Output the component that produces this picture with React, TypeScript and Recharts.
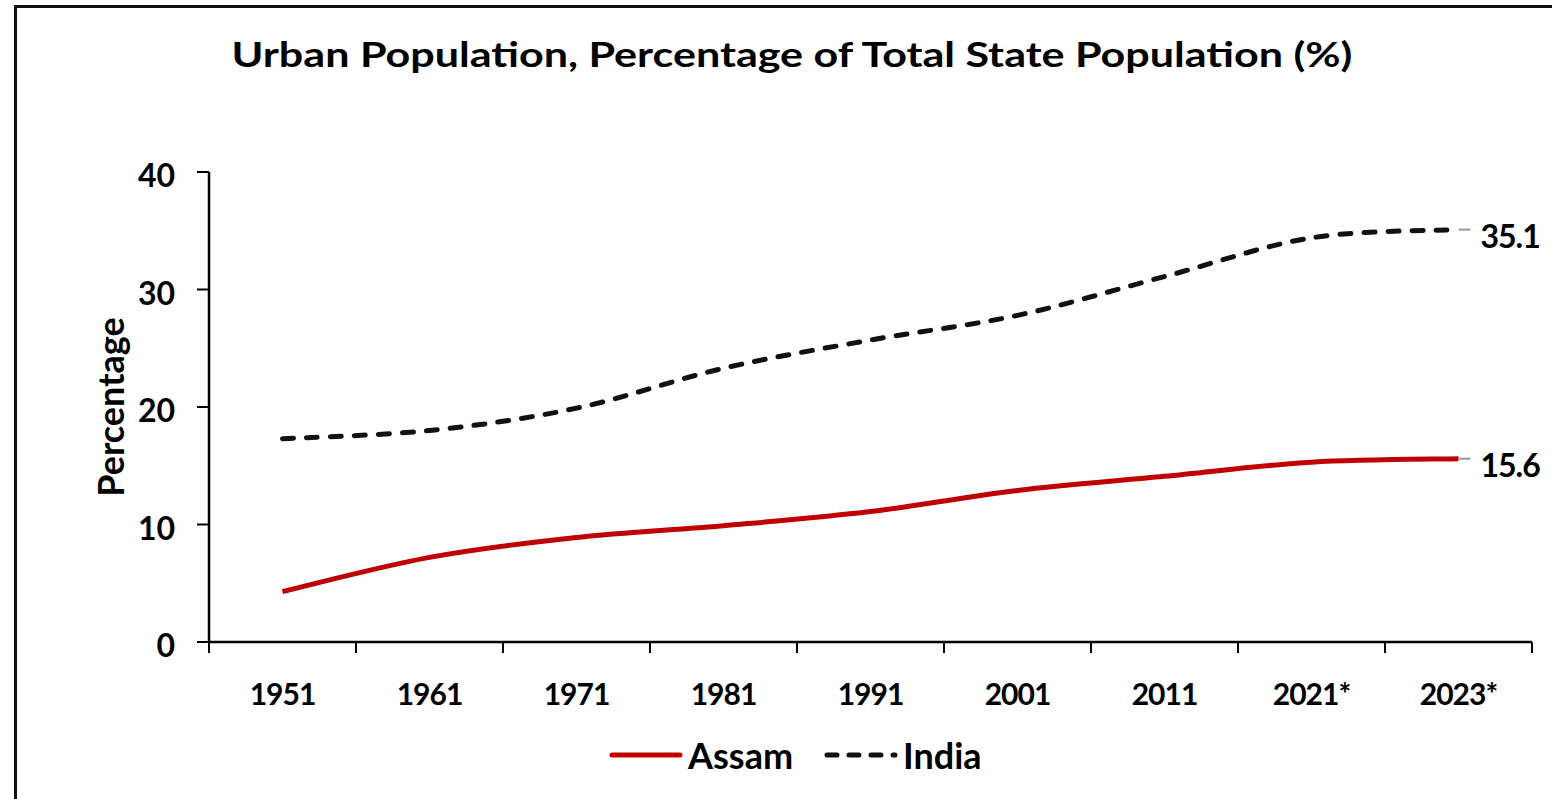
import React from 'react';
import { LineChart, Line, XAxis, YAxis, Legend, LabelList } from 'recharts';

const categories = ['1951', '1961', '1971', '1981', '1991', '2001', '2011', '2021*', '2023*'];
const assam = [4.3, 7.2, 8.9, 9.9, 11.1, 12.9, 14.1, 15.3, 15.6];
const india = [17.3, 18.0, 19.9, 23.3, 25.7, 27.8, 31.1, 34.4, 35.1];
const yTicks = [0, 10, 20, 30, 40];
const seriesNames = ['Assam', 'India'];
const seriesColors = ['#C00000', '#111111'];
const seriesDash = ['', '11 13'];

const data = categories.map((c, i) => ({ idx: i, cat: c, Assam: assam[i], India: india[i] }));

const xTicks: number[] = [];
for (let i = 0; i <= categories.length * 2; i++) xTicks.push(-0.5 + i * 0.5);

const FONT = 'Lato, "Open Sans", sans-serif';

// Excel-like smoothed line (Catmull-Rom / cardinal with tension 0)
const excelSmooth = (context: any) => {
  let pts: number[][] = [];
  return {
    areaStart() {},
    areaEnd() {},
    lineStart() {
      pts = [];
    },
    point(x: number, y: number) {
      pts.push([+x, +y]);
    },
    lineEnd() {
      if (!pts.length) return;
      context.moveTo(pts[0][0], pts[0][1]);
      for (let i = 0; i < pts.length - 1; i++) {
        const p0 = pts[i - 1] || pts[i];
        const p1 = pts[i];
        const p2 = pts[i + 1];
        const p3 = pts[i + 2] || p2;
        const c1x = p1[0] + (p2[0] - p0[0]) / 6;
        const c1y = p1[1] + (p2[1] - p0[1]) / 6;
        const c2x = p2[0] - (p3[0] - p1[0]) / 6;
        const c2y = p2[1] - (p3[1] - p1[1]) / 6;
        context.bezierCurveTo(c1x, c1y, c2x, c2y, p2[0], p2[1]);
      }
    },
  };
};

const XTick = (props: any) => {
  const { x, y, payload } = props;
  const v = payload.value;
  if (Math.abs(v - Math.round(v)) > 0.01) {
    return <line x1={x} x2={x} y1={y - 11} y2={y} stroke="#000" strokeWidth={2} />;
  }
  const label = categories[Math.round(v)];
  return (
    <text x={x} y={y + 52} textAnchor="middle" fontFamily={FONT} fontWeight={700} fontSize={30} letterSpacing={-1} fill="#000">
      {label}
    </text>
  );
};

const makeEndLabel = (n: number) => (props: any) => {
  const { x, y, value, index } = props;
  if (index !== n - 1) return null;
  return (
    <g>
      <line x1={x} x2={x + 12} y1={y} y2={y} stroke="#999" strokeWidth={2} />
      <text x={x + 22} y={y + 18} fontFamily={FONT} fontWeight={700} fontSize={32} letterSpacing={-1} fill="#000">
        {value.toFixed(1)}
      </text>
    </g>
  );
};

const LegendContent = (props: any) => {
  const payload = props.payload || [];
  return (
    <div style={{ display: 'flex', alignItems: 'center', fontFamily: FONT, fontWeight: 700, fontSize: 36, color: '#000', lineHeight: 1 }}>
      {payload.map((p: any, i: number) => {
        const k = seriesNames.indexOf(p.value);
        return (
          <div key={i} style={{ display: 'flex', alignItems: 'center', marginRight: 31 }}>
            <svg width={74} height={12} style={{ marginRight: 5 }}>
              <line x1={3} x2={71} y1={6} y2={6} stroke={p.color} strokeWidth={5} strokeLinecap="round" strokeDasharray={seriesDash[k] ? '10 12' : undefined} />
            </svg>
            <span>{p.value}</span>
          </div>
        );
      })}
    </div>
  );
};

export default function App() {
  return (
    <div style={{ position: 'absolute', left: 0, top: 0, width: 1552, height: 799, overflow: 'hidden', background: '#fff' }}>
      <div style={{ position: 'absolute', left: 14, top: 5, width: 1700, height: 900, borderLeft: '3px solid #111', borderTop: '3px solid #111' }} />
      <div style={{ position: 'absolute', left: 16, top: 32, width: 1552, textAlign: 'center', fontFamily: FONT, fontWeight: 700, fontSize: 35, color: '#000', whiteSpace: 'nowrap', transform: 'scaleX(1.23)', transformOrigin: '776px 0' }}>
        Urban Population, Percentage of Total State Population (%)
      </div>
      <div style={{ position: 'absolute', left: 0, top: 0 }}>
        <LineChart width={1552} height={799} data={data} margin={{ top: 172, right: 20, bottom: 0, left: 99 }}>
          <XAxis
            dataKey="idx"
            type="number"
            domain={[-0.5, categories.length - 0.5]}
            ticks={xTicks}
            interval={0}
            height={157}
            tickSize={11}
            tickMargin={0}
            tickLine={false}
            tick={<XTick />}
            axisLine={{ stroke: '#000', strokeWidth: 2.5 }}
            allowDecimals
          />
          <YAxis
            domain={[0, 40]}
            ticks={yTicks}
            width={110}
            tickSize={12}
            tickMargin={22}
            tickLine={{ stroke: '#000', strokeWidth: 2 }}
            axisLine={{ stroke: '#000', strokeWidth: 2.5 }}
            tick={{ fontFamily: FONT, fontWeight: 700, fontSize: 32, fill: '#000', dy: 4 }}
            label={{
              content: (p: any) => {
                const vb = p.viewBox;
                const cx = vb.x + 11;
                const cy = vb.y + vb.height / 2;
                return (
                  <text x={cx} y={cy} transform={`rotate(-90 ${cx} ${cy})`} textAnchor="middle" dominantBaseline="central" fontFamily={FONT} fontWeight={700} fontSize={36} fill="#000">
                    Percentage
                  </text>
                );
              },
            }}
          />
          <Legend
            layout="horizontal"
            verticalAlign="middle"
            align="center"
            content={<LegendContent />}
            wrapperStyle={{ position: 'absolute', left: 609, top: 737, width: 'auto' }}
          />
          <Line
            name={seriesNames[0]}
            dataKey="Assam"
            type={excelSmooth as any}
            stroke={seriesColors[0]}
            strokeWidth={5}
            dot={false}
            activeDot={false}
            isAnimationActive={false}
          >
            <LabelList dataKey="Assam" content={makeEndLabel(categories.length)} />
          </Line>
          <Line
            name={seriesNames[1]}
            dataKey="India"
            type={excelSmooth as any}
            stroke={seriesColors[1]}
            strokeWidth={5}
            strokeDasharray={seriesDash[1]}
            strokeLinecap="round"
            dot={false}
            activeDot={false}
            isAnimationActive={false}
          >
            <LabelList dataKey="India" content={makeEndLabel(categories.length)} />
          </Line>
        </LineChart>
      </div>
    </div>
  );
}
